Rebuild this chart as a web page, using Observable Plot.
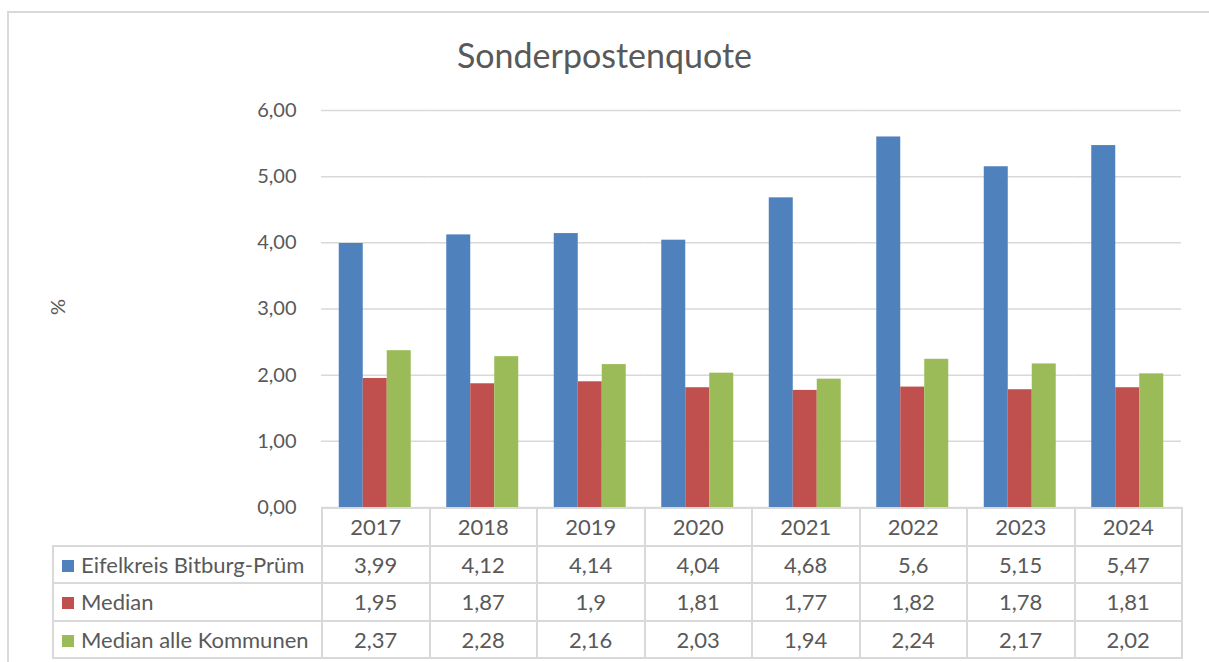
<!DOCTYPE html>
<html>
<head>
<meta charset="utf-8">
<script src="https://cdn.jsdelivr.net/npm/d3@7"></script>
<script src="https://cdn.jsdelivr.net/npm/@observablehq/plot@0.6"></script>
<style>
  html, body { margin: 0; padding: 0; background: #fff; }
  #wrap { position: relative; width: 1209px; height: 662px; overflow: hidden; font-family: Lato, "Open Sans", sans-serif; color: #595959; }
  #frame { position: absolute; left: 7px; top: 11px; width: 1240px; height: 700px; border: 2px solid #d9d9d9; box-sizing: border-box; }
  #title { position: absolute; left: 0; width: 1209px; top: 34px; text-align: center; font-size: 34px; line-height: 42px; }
  #ylabel { position: absolute; left: 42px; top: 294px; width: 30px; height: 26px; line-height: 26px; text-align: center; font-size: 20px; transform: rotate(-90deg); }
  #chart { position: absolute; left: 0; top: 0; }
  #tbl { position: absolute; left: 52px; top: 507px; border-collapse: collapse; table-layout: fixed; font-size: 22px; }
  #tbl td { border: 2px solid #d9d9d9; height: 35.5px; padding: 0; text-align: center; white-space: nowrap; }
  #tbl td.corner { border-top-style: hidden; border-left-style: hidden; }
  #tbl td.lab { text-align: left; padding-left: 8px; }
  .sw { display: inline-block; width: 12px; height: 12px; margin-right: 7px; vertical-align: 1px; }
</style>
</head>
<body>
<div id="wrap">
  <div id="frame"></div>
  <div id="title"></div>
  <div id="chart"></div>
  <div id="ylabel">%</div>
  <table id="tbl"></table>
</div>
<script>
const titleText = "Sonderpostenquote";
const years = ["2017", "2018", "2019", "2020", "2021", "2022", "2023", "2024"];
const seriesNames = ["Eifelkreis Bitburg-Prüm", "Median", "Median alle Kommunen"];
const eifelkreis = [3.99, 4.12, 4.14, 4.04, 4.68, 5.6, 5.15, 5.47];
const median = [1.95, 1.87, 1.9, 1.81, 1.77, 1.82, 1.78, 1.81];
const medianAlle = [2.37, 2.28, 2.16, 2.03, 1.94, 2.24, 2.17, 2.02];
const yTicks = [0, 1, 2, 3, 4, 5, 6];
const colors = ["#4f81bd", "#c0504d", "#9bbb59"];

const seriesValues = [eifelkreis, median, medianAlle];
const data = years.flatMap((yr, i) => seriesNames.map((s, j) => ({year: yr, series: s, value: seriesValues[j][i]})));
const fmtTick = d => d.toFixed(2).replace(".", ",");
const fmtVal = d => String(d).replace(".", ",");

document.getElementById("title").textContent = titleText;

const plot = Plot.plot({
  width: 1209,
  height: 520,
  marginLeft: 321,
  marginRight: 28,
  marginTop: 110,
  marginBottom: 13,
  style: {fontFamily: "Lato, 'Open Sans', sans-serif", color: "#595959", background: "transparent"},
  fx: {domain: years, padding: 0, round: false, axis: null, label: null},
  x: {domain: seriesNames, paddingInner: 0, paddingOuter: 0.74, round: false, axis: null},
  y: {domain: [0, 6], label: null},
  color: {domain: seriesNames, range: colors},
  marks: [
    Plot.gridY(yTicks, {stroke: "#d9d9d9", strokeOpacity: 1, strokeWidth: 1.5}),
    Plot.axisY(yTicks, {tickSize: 0, tickPadding: 25, tickFormat: fmtTick, fontSize: 20, label: null, fill: "#595959"}),
    Plot.barY(data, {fx: "year", x: "series", y: "value", fill: "series"})
  ]
});
document.getElementById("chart").appendChild(plot);

// data table below the chart
const tbl = document.getElementById("tbl");
const colW = 860 / years.length;
let html = '<colgroup><col style="width:269px">' + years.map(() => `<col style="width:${colW}px">`).join("") + '</colgroup>';
html += '<tr><td class="corner"></td>' + years.map(y => `<td>${y}</td>`).join("") + '</tr>';
seriesNames.forEach((s, j) => {
  html += `<tr><td class="lab"><span class="sw" style="background:${colors[j]}"></span>${s}</td>` +
    seriesValues[j].map(v => `<td>${fmtVal(v)}</td>`).join("") + '</tr>';
});
tbl.innerHTML = html;
</script>
</body>
</html>
